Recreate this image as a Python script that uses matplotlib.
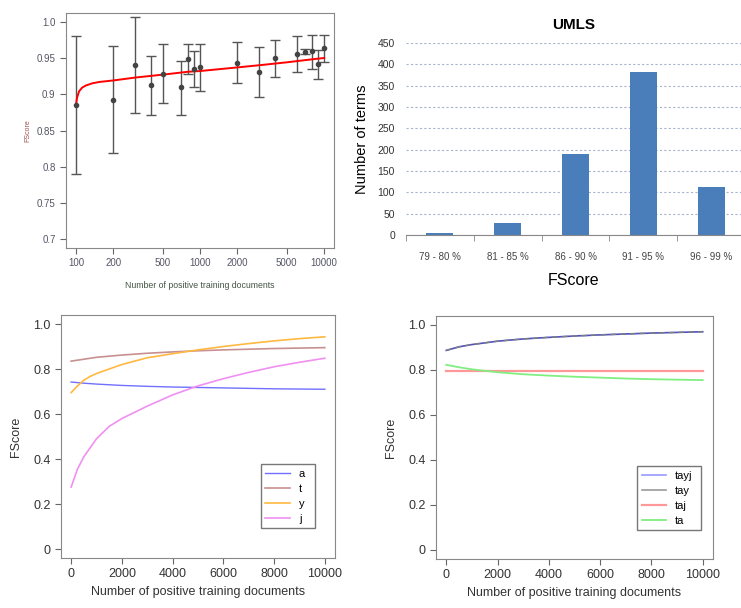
import matplotlib.pyplot as plt
import numpy as np

plt.rcParams['font.family'] = ['Liberation Sans', 'DejaVu Sans']

# --- top left: FScore vs training docs (log x) with error bars
docs = [100, 200, 300, 400, 500, 700, 800, 900, 1000, 2000, 3000, 4000, 6000, 7000, 8000, 9000, 10000]
fmean = [0.885, 0.892, 0.941, 0.9125, 0.928, 0.910, 0.949, 0.935, 0.937, 0.943, 0.930, 0.950, 0.955, 0.958, 0.959, 0.942, 0.964]
flow = [0.790, 0.819, 0.874, 0.872, 0.888, 0.872, 0.928, 0.910, 0.904, 0.915, 0.896, 0.924, 0.931, 0.956, 0.935, 0.921, 0.944]
fhigh = [0.980, 0.966, 1.007, 0.953, 0.969, 0.946, 0.969, 0.959, 0.969, 0.972, 0.965, 0.975, 0.980, 0.962, 0.981, 0.961, 0.981]
fit_x = [100, 102, 106, 112, 120, 135, 155, 200, 300, 500, 800, 1000, 2000, 3000, 5000, 7000, 10000]
fit_y = [0.885, 0.895, 0.904, 0.909, 0.912, 0.915, 0.917, 0.919, 0.923, 0.927, 0.931, 0.932, 0.937, 0.940, 0.944, 0.947, 0.950]

# --- top right: UMLS histogram
ranges = ['79 - 80 %', '81 - 85 %', '86 - 90 %', '91 - 95 %', '96 - 99 %']
nterms = [5, 27, 190, 383, 113]

# --- bottom left
xa = [0, 500, 1000, 2000, 3000, 4000, 5000, 6000, 7000, 8000, 9000, 10000]
a_y = [0.742, 0.737, 0.733, 0.727, 0.723, 0.720, 0.718, 0.716, 0.714, 0.712, 0.711, 0.710]
xt = [0, 1000, 2000, 3000, 4000, 5000, 6000, 7000, 8000, 9000, 10000]
t_y = [0.835, 0.852, 0.862, 0.870, 0.876, 0.881, 0.885, 0.888, 0.891, 0.893, 0.895]
xy = [0, 250, 500, 750, 1000, 1500, 2000, 3000, 4000, 5000, 6000, 7000, 8000, 9000, 10000]
y_y = [0.695, 0.725, 0.750, 0.767, 0.780, 0.800, 0.820, 0.850, 0.868, 0.885, 0.900, 0.913, 0.925, 0.935, 0.943]
xj = [0, 250, 500, 1000, 1500, 2000, 3000, 4000, 5000, 6000, 7000, 8000, 9000, 10000]
j_y = [0.275, 0.355, 0.410, 0.490, 0.545, 0.580, 0.635, 0.685, 0.725, 0.757, 0.785, 0.810, 0.830, 0.848]

# --- bottom right
xc = [0, 500, 1000, 2000, 3000, 4000, 5000, 6000, 7000, 8000, 9000, 10000]
tayj_y = [0.887, 0.903, 0.913, 0.928, 0.938, 0.945, 0.951, 0.956, 0.960, 0.964, 0.967, 0.970]
tay_y = [0.887, 0.903, 0.913, 0.928, 0.938, 0.945, 0.951, 0.956, 0.960, 0.964, 0.967, 0.970]
taj_y = [0.797] * 12
ta_y = [0.823, 0.812, 0.803, 0.790, 0.781, 0.775, 0.770, 0.766, 0.762, 0.759, 0.757, 0.755]

fig = plt.figure(figsize=(7.41, 6.08), dpi=100)

def r_style(ax, col='#333333', size=9):
    for s in ax.spines.values():
        s.set_color('#888888')
    ax.tick_params(direction='out', length=4, color='#666666', labelcolor=col, labelsize=size)

# top left
ax1 = fig.add_axes([0.0891, 0.5921, 0.3617, 0.3865])
ax1.errorbar(docs, fmean, yerr=[np.subtract(fmean, flow), np.subtract(fhigh, fmean)],
             fmt='o', ms=3, color='#444444', ecolor='#555555', elinewidth=1, capsize=3.5)
ax1.plot(fit_x, fit_y, color='red', lw=1.4)
ax1.set_xscale('log')
ax1.set_xlim(83.2, 12023)
ax1.set_ylim(0.688, 1.012)
ax1.set_xticks([100, 200, 500, 1000, 2000, 5000, 10000])
ax1.set_xticklabels(['100', '200', '500', '1000', '2000', '5000', '10000'])
ax1.minorticks_off()
ax1.set_yticks([0.7, 0.75, 0.8, 0.85, 0.9, 0.95, 1.0])
ax1.set_yticklabels(['0.7', '0.75', '0.8', '0.85', '0.9', '0.95', '1.0'])
r_style(ax1, '#555566', 7)
ax1.set_ylabel('FScore', fontsize=5, color='#a05050', labelpad=4)
ax1.set_xlabel('Number of positive training documents', fontsize=6.3, color='#445544', labelpad=9)

# top right
ax2 = fig.add_axes([0.5479, 0.6135, 0.4521, 0.3158])
pos = np.arange(len(ranges))
ax2.bar(pos, nterms, width=0.4, color='#4a7ebb', zorder=2)
ax2.set_ylim(0, 450)
ax2.set_xlim(-0.5, 4.44)
ax2.set_yticks(np.arange(0, 451, 50))
ax2.yaxis.grid(True, linestyle=(0, (2, 2)), color='#a8b4cc', lw=0.8, zorder=0)
ax2.set_xticks(pos)
ax2.set_xticklabels(ranges)
ax2.set_xticks(np.arange(-0.5, 4.5, 1), minor=True)
ax2.tick_params(axis='x', which='major', length=0, labelsize=7, colors='#444444', pad=12)
ax2.tick_params(axis='x', which='minor', length=4, color='#888888', direction='out')
ax2.tick_params(axis='y', length=0, labelsize=7.5, colors='#333333', pad=8)
for s in ['top', 'right', 'left']:
    ax2.spines[s].set_visible(False)
ax2.spines['bottom'].set_color('#888888')
ax2.set_title('UMLS', fontsize=11, fontweight='bold', pad=10)
ax2.set_ylabel('Number of terms', fontsize=10.5, labelpad=6)
ax2.set_xlabel('FScore', fontsize=11.5, labelpad=8)

# bottom left
ax3 = fig.add_axes([0.0823, 0.0822, 0.3698, 0.3997])
ax3.plot(xa, a_y, color='#7070ff', lw=1, label='a')
ax3.plot(xt, t_y, color='#c89090', lw=1.2, label='t')
ax3.plot(xy, y_y, color='#ffb840', lw=1.2, label='y')
ax3.plot(xj, j_y, color='#f090f0', lw=1.2, label='j')
ax3.set_xlim(-400, 10400)
ax3.set_ylim(-0.04, 1.04)
ax3.set_xticks([0, 2000, 4000, 6000, 8000, 10000])
ax3.set_yticks([0, 0.2, 0.4, 0.6, 0.8, 1.0])
ax3.set_yticklabels(['0', '0.2', '0.4', '0.6', '0.8', '1.0'])
r_style(ax3)
ax3.set_ylabel('FScore', fontsize=9, color='#333333', labelpad=8)
ax3.set_xlabel('Number of positive training documents', fontsize=9, color='#333333', labelpad=4)
ax3.legend(loc='lower left', bbox_to_anchor=(0.73, 0.123, 0.197, 0.284), mode='expand',
           fancybox=False, edgecolor='#777777', framealpha=1, fontsize=8,
           handlelength=2.2, labelspacing=0.45, borderaxespad=0, markerfirst=True)

# bottom right
ax4 = fig.add_axes([0.5884, 0.0806, 0.3738, 0.3997])
ax4.plot(xc, tayj_y, color='#5050c0', lw=1.2, label='tayj')
ax4.plot(xc, tay_y, color='#808080', lw=1, ls=(0, (4, 3)), label='tay')
ax4.plot(xc, taj_y, color='#ff9999', lw=1.6, label='taj')
ax4.plot(xc, ta_y, color='#80ee80', lw=1.3, label='ta')
ax4.set_xlim(-400, 10400)
ax4.set_ylim(-0.04, 1.04)
ax4.set_xticks([0, 2000, 4000, 6000, 8000, 10000])
ax4.set_yticks([0, 0.2, 0.4, 0.6, 0.8, 1.0])
ax4.set_yticklabels(['0', '0.2', '0.4', '0.6', '0.8', '1.0'])
r_style(ax4)
ax4.set_ylabel('FScore', fontsize=9, color='#333333', labelpad=8)
ax4.set_xlabel('Number of positive training documents', fontsize=9, color='#333333', labelpad=4)
h, l = ax4.get_legend_handles_labels()
h[0] = plt.Line2D([], [], color='#9999ff', lw=1.2)
h[1] = plt.Line2D([], [], color='#999999', lw=1.2)
ax4.legend(h, l, loc='lower left', bbox_to_anchor=(0.726, 0.119, 0.231, 0.288), mode='expand',
           fancybox=False, edgecolor='#777777', framealpha=1, fontsize=8,
           handlelength=2.2, labelspacing=0.45, borderaxespad=0)

fig.savefig('out.png', dpi=100)
